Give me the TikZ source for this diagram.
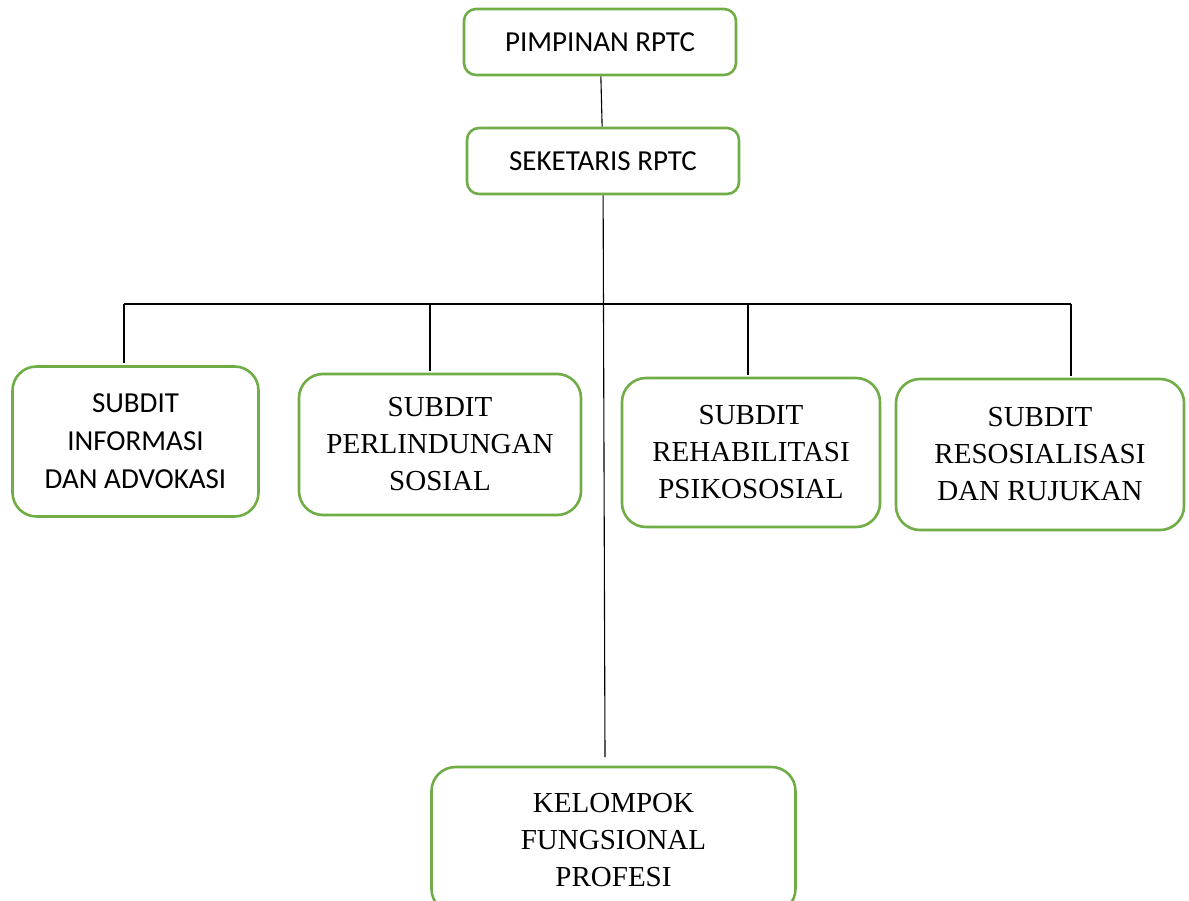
\documentclass[tikz,border=0pt]{standalone}
\usepackage{fontspec}
\setmainfont{Liberation Serif}
\newfontfamily\calibri{Carlito}
\definecolor{boxgreen}{RGB}{112,173,71}
\begin{document}
\begin{tikzpicture}[x=1pt, y=-1pt,
    box/.style={draw=boxgreen, line width=2.6pt, rounded corners=24pt, fill=white,
      align=center, inner sep=0pt, font=\fontsize{29}{37}\selectfont},
    sbox/.style={box, font=\calibri\fontsize{29}{38}\selectfont},
    link/.style={black, line width=1.1pt}]
  \useasboundingbox (0,0) rectangle (1189,901);
  % top of the chart
  \node (pimpinan) [sbox, rounded corners=12pt, minimum width=272pt, minimum height=66pt] at (600,42) {PIMPINAN RPTC};
  \node (seketaris) [sbox, rounded corners=12pt, minimum width=272pt, minimum height=66pt] at (603,161) {SEKETARIS RPTC};
  % the four subdit
  \node (informasi) [sbox, minimum width=246pt, minimum height=150pt] at (135.5,441.5) {SUBDIT\\INFORMASI\\DAN ADVOKASI};
  \node (perlindungan) [box, minimum width=282pt, minimum height=141pt] at (440,444.5) {SUBDIT\\PERLINDUNGAN\\SOSIAL};
  \node (rehabilitasi) [box, minimum width=258pt, minimum height=149pt] at (751,452.5) {SUBDIT\\REHABILITASI\\PSIKOSOSIAL};
  \node (resosialisasi) [box, minimum width=288pt, minimum height=151pt] at (1040,454.5) {SUBDIT\\RESOSIALISASI\\DAN RUJUKAN};
  % bottom
  \node (kelompok) [box, minimum width=364pt, minimum height=146pt] at (613.5,840) {KELOMPOK\\FUNGSIONAL\\PROFESI};
  % lines
  \coordinate (bus1) at (124,304);
  \coordinate (bus2) at (430,304);
  \coordinate (bus3) at (748,304);
  \coordinate (bus4) at (1071,304);
  \coordinate (kelompok end) at (605,757);
  \draw[link] (pimpinan) -- (seketaris);
  \draw[link] (seketaris) -- (kelompok end);
  \draw[link] (bus1) -- (bus4);
  \foreach \b/\n in {bus1/informasi, bus2/perlindungan, bus3/rehabilitasi, bus4/resosialisasi}{
    \draw[link, shorten >=2pt] (\b) -- (\b |- \n.north);
  }
\end{tikzpicture}
\end{document}
